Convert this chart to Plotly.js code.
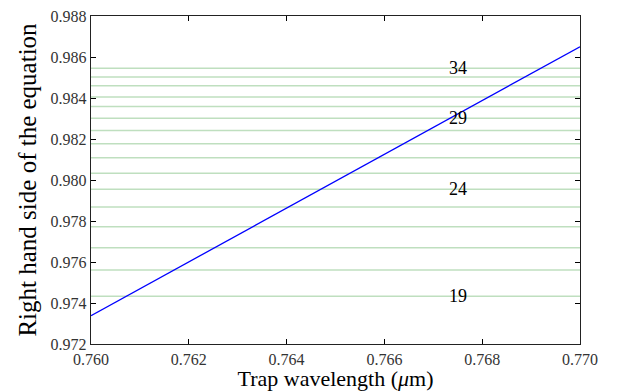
<!DOCTYPE html>
<html>
<head>
<meta charset="utf-8">
<script src="https://cdn.plot.ly/plotly-3.0.1.min.js"></script>
<style>html,body{margin:0;padding:0;background:#fff;}#chart{width:619px;height:391px;}</style>
</head>
<body>
<div id="chart"></div>
<script>
// Trap wavelength (um) and right hand side of the equation
const wavelength = [0.760, 0.765, 0.770];
const rhsValues = [0.97338, 0.97994, 0.98650];

// Horizontal levels (n = 19..34) and their values
const levelN = [19, 20, 21, 22, 23, 24, 25, 26, 27, 28, 29, 30, 31, 32, 33, 34];
const levelValues = [0.97433, 0.97561, 0.97670, 0.97772, 0.97868, 0.97955, 0.98033,
                     0.98109, 0.98177, 0.98242, 0.98301, 0.98358, 0.98405, 0.98460, 0.98502, 0.98545];
const labeledN = [19, 24, 29, 34];
const labelX = 0.7675;

const xRange = [0.760, 0.770];
const yRange = [0.972, 0.988];
const xTicks = [0.760, 0.762, 0.764, 0.766, 0.768, 0.770];
const yTicks = [0.972, 0.974, 0.976, 0.978, 0.980, 0.982, 0.984, 0.986, 0.988];

const traces = [];
levelValues.forEach(v => {
  traces.push({x: xRange, y: [v, v], mode: 'lines', line: {color: 'rgba(0,128,0,0.25)', width: 1.5}, hoverinfo: 'skip', showlegend: false});
});
traces.push({x: wavelength, y: rhsValues, mode: 'lines', line: {color: '#0000ff', width: 1.3}, showlegend: false});

const SERIF = 'Liberation Serif';
const annotations = labeledN.map(n => ({
  x: labelX, y: levelValues[levelN.indexOf(n)], xref: 'x', yref: 'y',
  text: String(n), showarrow: false, font: {family: SERIF, size: 18, color: '#000'}
}));

const tickFont = {family: SERIF, size: 16, color: '#333'};
const layout = {
  width: 619, height: 391,
  margin: {l: 91, r: 39, t: 16, b: 47},
  paper_bgcolor: '#fff', plot_bgcolor: '#fff',
  font: {family: SERIF, size: 16, color: '#000'},
  xaxis: {
    range: xRange, tickvals: xTicks, ticktext: xTicks.map(v => v.toFixed(3)),
    ticks: 'inside', ticklen: 5, tickcolor: '#000', mirror: 'allticks', showline: true, linecolor: '#222', linewidth: 1.3,
    showgrid: false, zeroline: false, tickfont: tickFont,
    title: {text: 'Trap wavelength (<i>μ</i>m)', font: {family: SERIF, size: 22, color: '#000'}, standoff: 4}
  },
  yaxis: {
    range: yRange, tickvals: yTicks, ticktext: yTicks.map(v => v.toFixed(3)),
    ticks: 'inside', ticklen: 5, tickcolor: '#000', mirror: 'allticks', showline: true, linecolor: '#222', linewidth: 1.3,
    showgrid: false, zeroline: false, tickfont: tickFont,
    title: {text: 'Right hand side of the equation', font: {family: SERIF, size: 25, color: '#000'}, standoff: 6}
  },
  annotations: annotations
};
Plotly.newPlot('chart', traces, layout, {displayModeBar: false, staticPlot: true});
</script>
</body>
</html>
